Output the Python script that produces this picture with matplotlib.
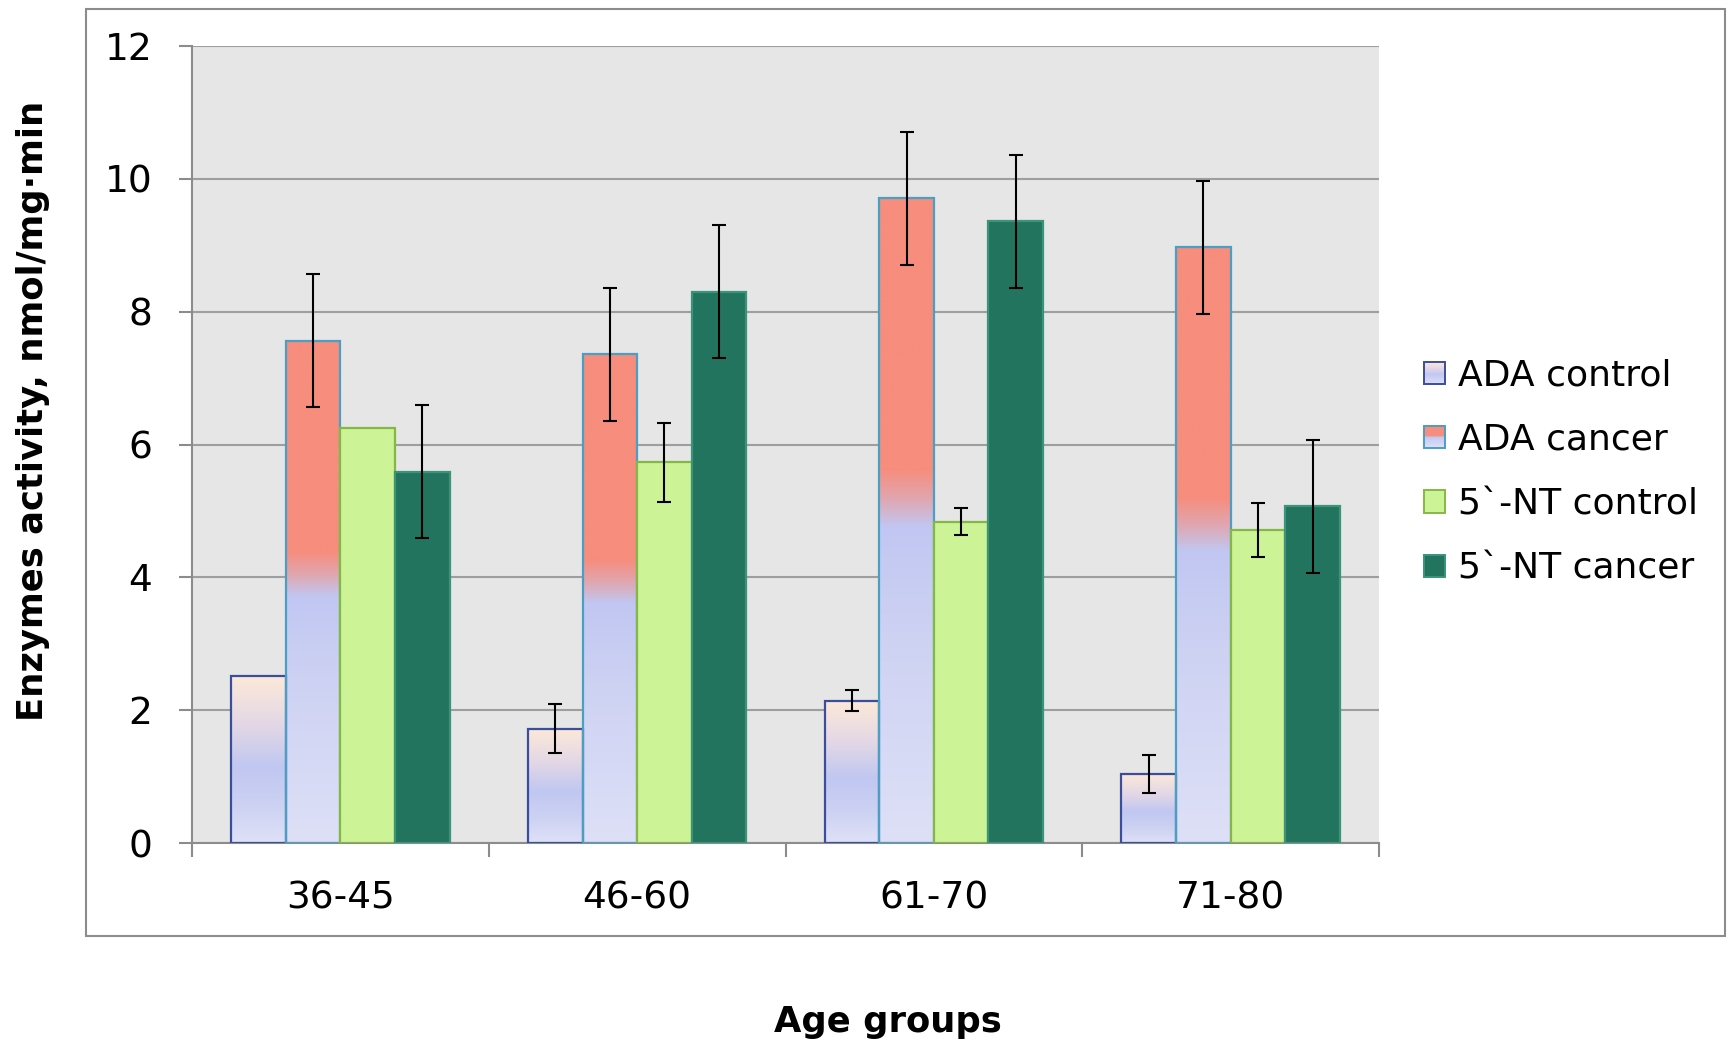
import numpy as np
import matplotlib
matplotlib.use("Agg")
import matplotlib.pyplot as plt
from matplotlib.colors import LinearSegmentedColormap
from matplotlib.patches import Rectangle
from matplotlib.legend_handler import HandlerBase

# ---------------- data ----------------
age_groups = ["36-45", "46-60", "61-70", "71-80"]
series_names = ["ADA control", "ADA cancer", "5`-NT control", "5`-NT cancer"]
ada_control = [2.52, 1.72, 2.14, 1.04]
ada_control_err = [np.nan, 0.37, 0.16, 0.29]
ada_cancer = [7.56, 7.36, 9.71, 8.97]
ada_cancer_err = [1.0, 1.0, 1.0, 1.0]
nt_control = [6.25, 5.73, 4.84, 4.71]
nt_control_err = [np.nan, 0.6, 0.2, 0.41]
nt_cancer = [5.59, 8.30, 9.36, 5.07]
nt_cancer_err = [1.0, 1.0, 1.0, 1.0]
y_ticks = [0, 2, 4, 6, 8, 10, 12]

# ---------------- style ----------------
plt.rcParams['font.family'] = ['DejaVu Sans']
W, H = 1728, 1041
fig = plt.figure(figsize=(W / 100, H / 100), dpi=100)
ax = fig.add_axes([192 / W, 1 - 843 / H, (1379 - 192) / W, (843 - 46) / H])
ax.set_facecolor('#E6E6E6')

cmap_ctrl = LinearSegmentedColormap.from_list(
    'ctrl', [(0.0, '#DEE1F7'), (0.22, '#CDD2F3'), (0.45, '#C0C7F1'),
             (0.7, '#E3D7E6'), (1.0, '#FDE9D8')])
cmap_canc = LinearSegmentedColormap.from_list(
    'canc', [(0.0, '#DEE0F7'), (0.3, '#CFD3F3'), (0.49, '#C1C7F2'),
             (0.535, '#E0A6AE'), (0.58, '#F78D7C'), (1.0, '#F78D7C')])

series = [
    dict(vals=ada_control, err=ada_control_err, cmap=cmap_ctrl, face=None, edge='#3B4E9C'),
    dict(vals=ada_cancer, err=ada_cancer_err, cmap=cmap_canc, face=None, edge='#4B9FC2'),
    dict(vals=nt_control, err=nt_control_err, cmap=None, face='#CCF396', edge='#84B846'),
    dict(vals=nt_cancer, err=nt_cancer_err, cmap=None, face='#23745E', edge='#3A9479'),
]

x = np.arange(len(age_groups))
bw = 0.184
offsets = (np.arange(4) - 1.5) * bw
grad = np.linspace(0, 1, 256).reshape(-1, 1)

for s, off in zip(series, offsets):
    face = s['face'] if s['face'] else 'none'
    bars = ax.bar(x + off, s['vals'], width=bw, facecolor=face, edgecolor=s['edge'],
                  linewidth=1.6, zorder=3)
    if s['cmap'] is not None:
        for p in bars:
            x0, w, h = p.get_x(), p.get_width(), p.get_height()
            im = ax.imshow(grad, cmap=s['cmap'], origin='lower', aspect='auto',
                           extent=[x0, x0 + w, 0, h], zorder=2.5, interpolation='bilinear')
            im.set_clip_path(p)
    err = np.array(s['err'], dtype=float)
    ok = ~np.isnan(err)
    ax.errorbar((x + off)[ok], np.array(s['vals'])[ok], yerr=err[ok], fmt='none',
                ecolor='black', elinewidth=1.5, capsize=4.7, capthick=1.5, zorder=5)

ax.set_xlim(-0.5, len(age_groups) - 0.5)
ax.set_ylim(0, 12)
ax.set_yticks(y_ticks)
ax.set_yticklabels([str(t) for t in y_ticks])
ax.yaxis.grid(True, color='#9E9E9E', linewidth=1.5, zorder=1)
ax.set_axisbelow(True)

# x: ticks at category boundaries, labels centered
ax.set_xticks(np.arange(len(age_groups) + 1) - 0.5)
ax.set_xticklabels([])
ax.set_xticks(x, minor=True)
ax.set_xticklabels(age_groups, minor=True)
ax.tick_params(axis='x', which='major', length=10, width=1.5, color='#8C8C8C', direction='out')
ax.tick_params(axis='x', which='minor', length=0, pad=27, labelsize=27)
ax.tick_params(axis='y', length=9.5, width=1.5, color='#8C8C8C', direction='out', pad=19, labelsize=27)

for side in ['top', 'right']:
    ax.spines[side].set_visible(False)
for side in ['left', 'bottom']:
    ax.spines[side].set_color('#8C8C8C')
    ax.spines[side].set_linewidth(1.5)

# axis titles
fig.text(33 / W, 1 - 411 / H, 'Enzymes activity, nmol/mg·min', rotation=90,
         ha='center', va='center', fontsize=25.5, fontweight='bold')
fig.text(888 / W, 1 - 1032 / H, 'Age groups', ha='center', va='baseline',
         fontsize=25.5, fontweight='bold')

# outer frame
fig.patches.append(Rectangle((86 / W, 1 - 936 / H), (1725 - 86) / W, (936 - 9) / H,
                             transform=fig.transFigure, fill=False,
                             edgecolor='#8C8C8C', linewidth=1.5))


# legend with gradient swatches
class GradHandler(HandlerBase):
    def __init__(self, cmap, edge):
        super().__init__()
        self.cmap = cmap
        self.edge = edge

    def create_artists(self, legend, orig_handle, xdescent, ydescent, width, height,
                       fontsize, trans):
        arts = []
        n = 20
        for i in range(n):
            c = self.cmap((i + 0.5) / n)
            arts.append(Rectangle((-xdescent, -ydescent + height * i / n), width,
                                  height / n + 0.3, facecolor=c, edgecolor='none',
                                  transform=trans))
        arts.append(Rectangle((-xdescent, -ydescent), width, height, facecolor='none',
                              edgecolor=self.edge, linewidth=1.4, transform=trans))
        return arts


handles = []
hmap = {}
for s, name in zip(series, series_names):
    if s['cmap'] is not None:
        h = Rectangle((0, 0), 1, 1, label=name)
        hmap[h] = GradHandler(s['cmap'], s['edge'])
    else:
        h = Rectangle((0, 0), 1, 1, facecolor=s['face'], edgecolor=s['edge'],
                      linewidth=1.4, label=name)
    handles.append(h)

fig.legend(handles=handles, labels=series_names, handler_map=hmap,
           loc='center left', bbox_to_anchor=(1424 / W, 1 - 472 / H),
           frameon=False, fontsize=26, handlelength=0.58, handleheight=0.58,
           handletextpad=0.36, labelspacing=0.84, borderpad=0, borderaxespad=0)

fig.savefig('out.png', dpi=100)
